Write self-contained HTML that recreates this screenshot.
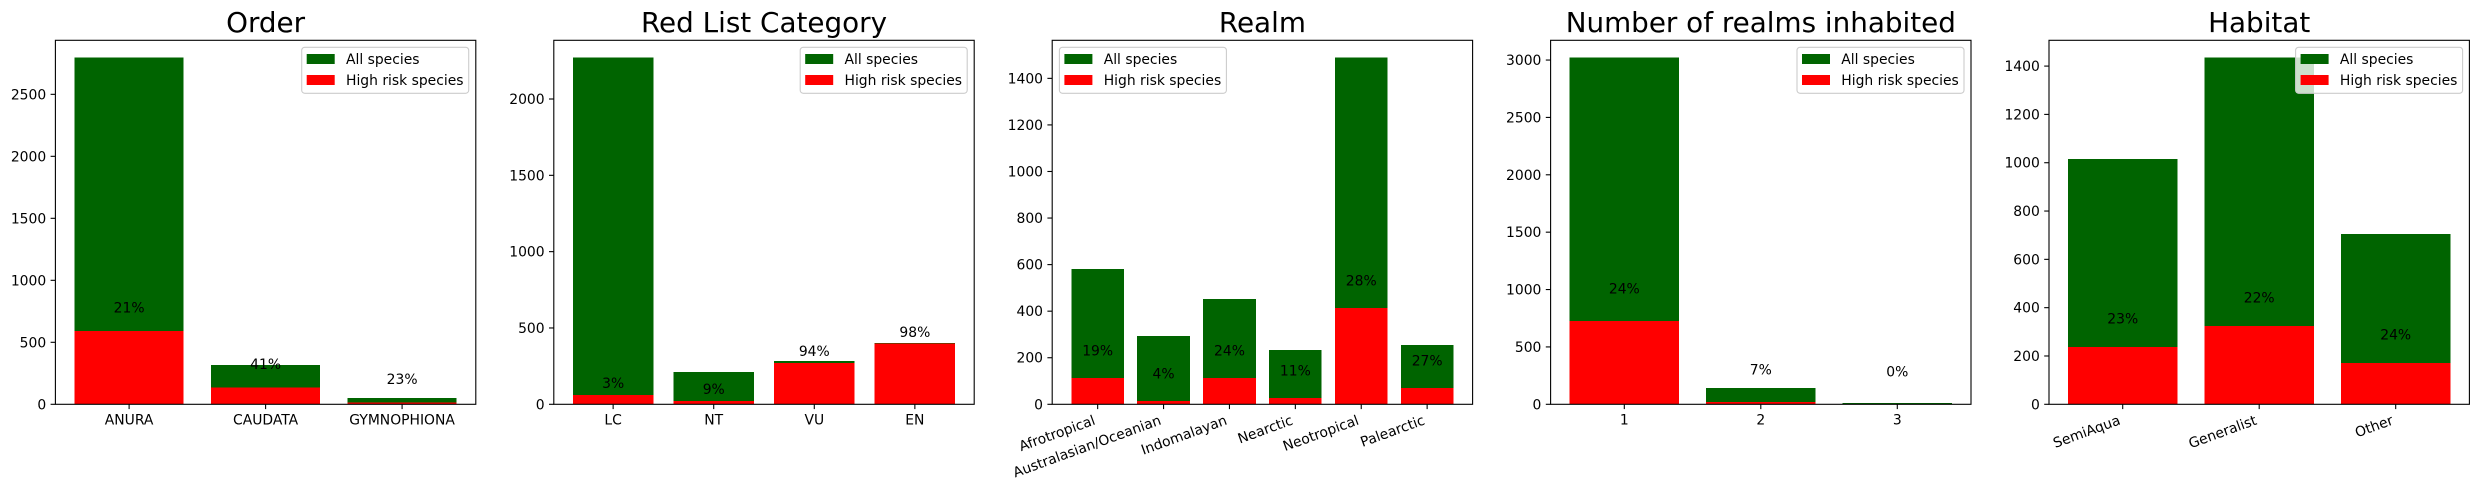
<!DOCTYPE html>
<html>
<head>
<meta charset="utf-8">
<title>Species risk charts</title>
<style>
html,body{margin:0;padding:0;background:#fff;}
svg{display:block;}
text{font-family:"DejaVu Sans","Liberation Sans",sans-serif;fill:#000;}
.title{font-size:27.8px;text-anchor:middle;}
.tick-label{font-size:13.9px;}
.legend-label{font-size:13.9px;}
.legend-box{fill:#fff;fill-opacity:.8;stroke:#ccc;stroke-width:1.1;}
</style>
</head>
<body>
<svg id="figure" xmlns="http://www.w3.org/2000/svg" width="2478" height="490" viewBox="0 0 2478 490">
  <g id="panel-0">
    <g class="plot"></g>
    <text class="title" x="265.6" y="32">Order</text>
    <g transform="translate(301.7,47.3)">
      <rect class="legend-box" width="167" height="46" rx="3"/>
      <rect x="5" y="6.7" width="28" height="10" fill="#006400"/>
      <text class="legend-label" x="44.3" y="16.7">All species</text>
      <rect x="5" y="27.7" width="28" height="10" fill="#ff0000"/>
      <text class="legend-label" x="44.3" y="37.7">High risk species</text>
    </g>
  </g>
  <g id="panel-1">
    <g class="plot"></g>
    <text class="title" x="764" y="32">Red List Category</text>
    <g transform="translate(800.2,47.3)">
      <rect class="legend-box" width="167" height="46" rx="3"/>
      <rect x="5" y="6.7" width="28" height="10" fill="#006400"/>
      <text class="legend-label" x="44.3" y="16.7">All species</text>
      <rect x="5" y="27.7" width="28" height="10" fill="#ff0000"/>
      <text class="legend-label" x="44.3" y="37.7">High risk species</text>
    </g>
  </g>
  <g id="panel-2">
    <g class="plot"></g>
    <text class="title" x="1262.4" y="32">Realm</text>
    <g transform="translate(1059.4,47.3)">
      <rect class="legend-box" width="167" height="46" rx="3"/>
      <rect x="5" y="6.7" width="28" height="10" fill="#006400"/>
      <text class="legend-label" x="44.3" y="16.7">All species</text>
      <rect x="5" y="27.7" width="28" height="10" fill="#ff0000"/>
      <text class="legend-label" x="44.3" y="37.7">High risk species</text>
    </g>
  </g>
  <g id="panel-3">
    <g class="plot"></g>
    <text class="title" x="1760.8" y="32">Number of realms inhabited</text>
    <g transform="translate(1797,47.3)">
      <rect class="legend-box" width="167" height="46" rx="3"/>
      <rect x="5" y="6.7" width="28" height="10" fill="#006400"/>
      <text class="legend-label" x="44.3" y="16.7">All species</text>
      <rect x="5" y="27.7" width="28" height="10" fill="#ff0000"/>
      <text class="legend-label" x="44.3" y="37.7">High risk species</text>
    </g>
  </g>
  <g id="panel-4">
    <g class="plot"></g>
    <text class="title" x="2259.2" y="32">Habitat</text>
    <g transform="translate(2295.6,47.3)">
      <rect class="legend-box" width="167" height="46" rx="3"/>
      <rect x="5" y="6.7" width="28" height="10" fill="#006400"/>
      <text class="legend-label" x="44.3" y="16.7">All species</text>
      <rect x="5" y="27.7" width="28" height="10" fill="#ff0000"/>
      <text class="legend-label" x="44.3" y="37.7">High risk species</text>
    </g>
  </g>
</svg>
<script>
// Order
const orderCategories = ['ANURA', 'CAUDATA', 'GYMNOPHIONA'];
const orderAll = [2796, 317, 51];
const orderHigh = [591, 134, 14];
const orderPercent = ['21%', '41%', '23%'];
const orderTicks = [0, 500, 1000, 1500, 2000, 2500];
const orderLabelLift = 190;

// Red List Category
const redListCategories = ['LC', 'NT', 'VU', 'EN'];
const redListAll = [2271, 212, 284, 402];
const redListHigh = [61, 22, 270, 397];
const redListPercent = ['3%', '9%', '94%', '98%'];
const redListTicks = [0, 500, 1000, 1500, 2000];
const redListLabelLift = 78;

// Realm
const realmCategories = ['Afrotropical', 'Australasian/Oceanian', 'Indomalayan', 'Nearctic', 'Neotropical', 'Palearctic'];
const realmAll = [582, 294, 453, 234, 1489, 255];
const realmHigh = [114, 14, 114, 28, 414, 71];
const realmPercent = ['19%', '4%', '24%', '11%', '28%', '27%'];
const realmTicks = [0, 200, 400, 600, 800, 1000, 1200, 1400];
const realmLabelLift = 118;

// Number of realms inhabited
const inhabitedCategories = ['1', '2', '3'];
const inhabitedAll = [3021, 142, 11];
const inhabitedHigh = [726, 20, 0];
const inhabitedPercent = ['24%', '7%', '0%'];
const inhabitedTicks = [0, 500, 1000, 1500, 2000, 2500, 3000];
const inhabitedLabelLift = 285;

// Habitat
const habitatCategories = ['SemiAqua', 'Generalist', 'Other'];
const habitatAll = [1015, 1435, 705];
const habitatHigh = [237, 325, 171];
const habitatPercent = ['23%', '22%', '24%'];
const habitatTicks = [0, 200, 400, 600, 800, 1000, 1200, 1400];
const habitatLabelLift = 118;

const SVG_NS = 'http://www.w3.org/2000/svg';
const AXES_TOP = 40.3;
const AXES_BOTTOM = 404.3;
const AXES_WIDTH = 420.4;

function make(parent, tag, attrs, text) {
  const el = document.createElementNS(SVG_NS, tag);
  for (const k in attrs) el.setAttribute(k, attrs[k]);
  if (text !== undefined) el.textContent = text;
  parent.appendChild(el);
  return el;
}

function drawChart(panelIndex, left, categories, allValues, highValues, percents, ticks, lift, rotate) {
  const plot = document.querySelector('#panel-' + panelIndex + ' .plot');
  const yMax = Math.max.apply(null, allValues) * 1.05;
  const n = categories.length;
  const xSpan = (n - 1 + 0.8) * 1.1;
  const xMin = -0.4 - (n - 1 + 0.8) * 0.05;
  const xScale = function (v) { return left + (v - xMin) / xSpan * AXES_WIDTH; };
  const yScale = function (v) { return AXES_BOTTOM - v / yMax * (AXES_BOTTOM - AXES_TOP); };

  categories.forEach(function (cat, i) {
    const bar = make(plot, 'rect', {
      x: xScale(i - 0.4), y: yScale(allValues[i]),
      width: xScale(i + 0.4) - xScale(i - 0.4), height: AXES_BOTTOM - yScale(allValues[i]),
      fill: '#006400', 'shape-rendering': 'crispEdges'
    });
    
    
  });

  categories.forEach(function (cat, i) {
    const bar = make(plot, 'rect', {
      x: xScale(i - 0.4), y: yScale(highValues[i]),
      width: xScale(i + 0.4) - xScale(i - 0.4), height: AXES_BOTTOM - yScale(highValues[i]),
      fill: '#ff0000', 'shape-rendering': 'crispEdges'
    });
    
    
  });

  ticks.forEach(function (t) {
    const y = yScale(t);
    const mark = make(plot, 'line', { x1: left - 4.8, x2: left, y1: y, y2: y, stroke: '#000', 'stroke-width': 1.1 });
    
    
    const label = make(plot, 'text', { class: 'tick-label', x: left - 9.2, y: y + 5, 'text-anchor': 'end' }, String(t));
    
    
  });

  categories.forEach(function (cat, i) {
    const x = xScale(i);
    const mark = make(plot, 'line', { x1: x, x2: x, y1: AXES_BOTTOM, y2: AXES_BOTTOM + 4.8, stroke: '#000', 'stroke-width': 1.1 });
    
    
    const attrs = rotate
      ? { class: 'tick-label', x: x - 1.5, y: 424, 'text-anchor': 'end', transform: 'rotate(-20 ' + (x - 1.5) + ' 424)' }
      : { class: 'tick-label', x: x, y: 424.3, 'text-anchor': 'middle' };
    const label = make(plot, 'text', attrs, cat);
    
    
  });

  percents.forEach(function (p, i) {
    const label = make(plot, 'text', {
      class: 'tick-label', x: xScale(i), y: yScale(highValues[i] + lift) + 5, 'text-anchor': 'middle'
    }, p);
    
    
  });

  const frame = make(plot, 'rect', {
    x: left, y: AXES_TOP, width: AXES_WIDTH, height: AXES_BOTTOM - AXES_TOP,
    fill: 'none', stroke: '#000', 'stroke-width': 1.1
  });
  
  
}

drawChart(0, 55.4, orderCategories, orderAll, orderHigh, orderPercent, orderTicks, orderLabelLift, false);
drawChart(1, 553.8, redListCategories, redListAll, redListHigh, redListPercent, redListTicks, redListLabelLift, false);
drawChart(2, 1052.2, realmCategories, realmAll, realmHigh, realmPercent, realmTicks, realmLabelLift, true);
drawChart(3, 1550.6, inhabitedCategories, inhabitedAll, inhabitedHigh, inhabitedPercent, inhabitedTicks, inhabitedLabelLift, false);
drawChart(4, 2049, habitatCategories, habitatAll, habitatHigh, habitatPercent, habitatTicks, habitatLabelLift, true);
</script>
</body>
</html>
